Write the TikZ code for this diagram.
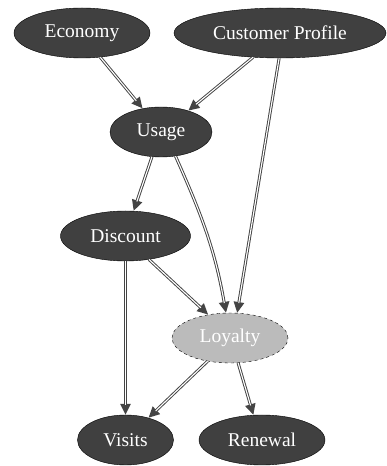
\documentclass[tikz,border=0pt]{standalone}
\usepackage{fontspec}
\setmainfont{Liberation Serif}
\usetikzlibrary{shapes.geometric,arrows.meta}
\definecolor{nodegray}{HTML}{404040}
\definecolor{edgegray}{HTML}{444444}
\definecolor{latentgray}{HTML}{BBBBBB}

\begin{document}
\begin{tikzpicture}[x=1pt,y=1pt,
                    factor/.style={ellipse,draw=black,fill=nodegray,text=white,inner sep=0pt,
                                   minimum height=50pt,font=\fontsize{19.5}{22}\selectfont},
                    latent/.style={factor,fill=latentgray,dashed},
                    influence/.style={draw=edgegray,line width=3pt,
                                      -{Triangle[length=11pt,width=10pt]},
                                      postaction={draw=white,line width=1.1pt,-,shorten >=10pt}}]
      \useasboundingbox (0,0) rectangle (387,466);

      \node[factor,minimum width=136pt] (economy) at (82,433) {Economy};
      \node[factor,minimum width=212pt] (profile) at (280,433) {Customer Profile};
      \node[factor,minimum width=102pt] (usage) at (161,334) {Usage};
      \node[factor,minimum width=130pt] (discount) at (125.5,230) {Discount};
      \node[latent,minimum width=116pt] (loyalty) at (230,128) {Loyalty};
      \node[factor,minimum width=96pt] (visits) at (125.5,26) {Visits};
      \node[factor,minimum width=126pt] (renewal) at (262,26) {Renewal};

      \draw[influence] (economy.-53) -- (usage.128);
      \draw[influence] (profile.222) -- (usage.38);
      \draw[influence] (profile.268) -- (loyalty.74);
      \draw[influence] (usage.250) -- (discount.72);
      \draw[influence] (usage.301) to[out=-66,in=100] (loyalty.99);
      \draw[influence] (discount.-45) -- (loyalty.133);
      \draw[influence] (discount.south) -- (visits.north);
      \draw[influence] (loyalty.226) -- (visits.44);
      \draw[influence] (loyalty.288) -- (renewal.109);
    \end{tikzpicture}
\end{document}
